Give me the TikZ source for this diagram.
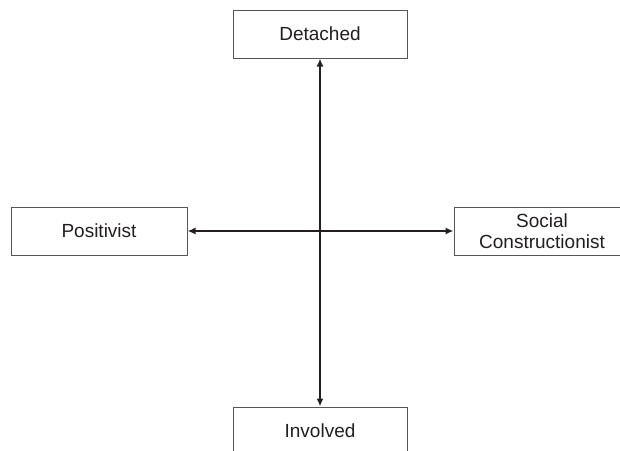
\documentclass[tikz,border=0pt]{standalone}
\usepackage{fontspec}
\setmainfont{Liberation Sans}
\usetikzlibrary{arrows.meta}
\definecolor{ink}{HTML}{231F20}
\definecolor{edge}{HTML}{555555}
\begin{document}
\begin{tikzpicture}[x=1pt,y=-1pt,
  pole/.style={draw=edge, line width=1pt, fill=white, text=ink,
    minimum width=174pt, minimum height=48pt, inner sep=0pt,
    align=center, font=\fontsize{19}{21}\selectfont},
  axis/.style={draw=ink, line width=2pt,
    {Latex[length=8pt,width=7pt]}-{Latex[length=8pt,width=7pt]}}]
  \useasboundingbox (0,0) rectangle (620,450);
  \clip (0,0) rectangle (620,450);
  % the four poles of the two dimensions
  \node[pole] (det) at (320,34) {Detached};
  \node[pole] (inv) at (320,431) {Involved};
  \node[pole, minimum width=176pt] (pos) at (99,231) {Positivist};
  \node[pole, minimum width=176pt] (soc) at (542,231) {Social\\Constructionist};
  % double-headed axes between opposite poles
  \draw[axis] (det.south) -- (inv.north);
  \draw[axis] (pos.east) -- (soc.west);
\end{tikzpicture}
\end{document}
